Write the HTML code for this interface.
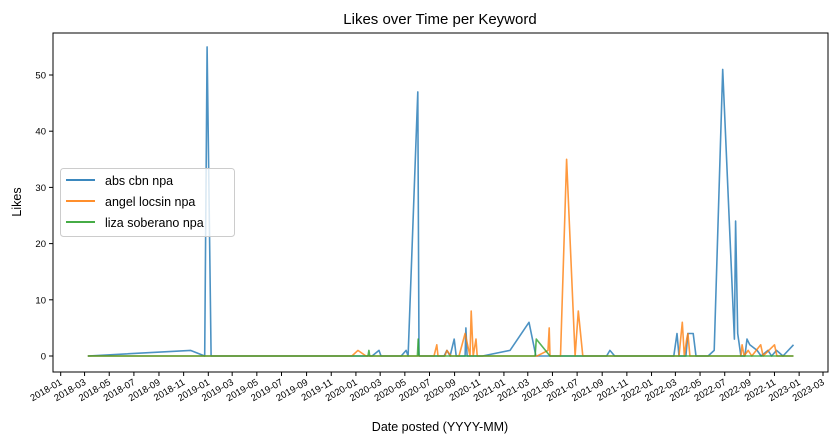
<!DOCTYPE html>
<html><head><meta charset="utf-8"><style>
body{margin:0;background:#fff;}
svg{display:block;font-family:"Liberation Sans","DejaVu Sans",sans-serif;}
</style></head><body>
<svg id="chart" width="838" height="443" xmlns="http://www.w3.org/2000/svg">
<text x="440" y="24" font-size="15" text-anchor="middle">Likes over Time per Keyword</text>
<text x="440" y="431" font-size="12.5" text-anchor="middle">Date posted (YYYY-MM)</text>
<text x="21" y="202" font-size="12.5" text-anchor="middle" transform="rotate(-90 21 202)">Likes</text>
<g id="grid"></g>
<g id="series"></g>
<rect x="53" y="33" width="775" height="339" fill="none" stroke="#000" stroke-width="1"/>
<g>
<rect x="60.5" y="168.5" width="174" height="68" rx="3" fill="#fff" fill-opacity="0.8" stroke="#ccc"/>
<line x1="66" y1="180" x2="95" y2="180" stroke="#1f77b4" stroke-width="1.8"/>
<text x="105" y="185" font-size="12.5">abs cbn npa</text>
<line x1="66" y1="201" x2="95" y2="201" stroke="#ff7f0e" stroke-width="1.8"/>
<text x="105" y="206" font-size="12.5">angel locsin npa</text>
<line x1="66" y1="222" x2="95" y2="222" stroke="#2ca02c" stroke-width="1.8"/>
<text x="105" y="227" font-size="12.5">liza soberano npa</text>
</g>
</svg>
<script>
const absDates=["2018-03-09","2018-11-18","2018-12-23","2018-12-29","2019-01-08","2020-02-10","2020-02-27","2020-03-03","2020-04-22","2020-05-04","2020-05-09","2020-06-02","2020-06-05","2020-08-06","2020-08-13","2020-08-21","2020-08-31","2020-09-05","2020-09-27","2020-09-29","2020-10-02","2020-11-09","2021-01-16","2021-03-04","2021-03-21","2021-09-12","2021-09-20","2021-10-02","2022-02-25","2022-03-05","2022-03-10","2022-03-27","2022-04-01","2022-04-14","2022-04-21","2022-05-21","2022-06-05","2022-06-26","2022-07-25","2022-07-28","2022-08-02","2022-08-10","2022-08-20","2022-08-25","2022-09-01","2022-09-19","2022-09-29","2022-10-16","2022-10-25","2022-11-06","2022-11-22","2022-12-18"];
const absLikes=[0,1,0,55,0,0,1,0,0,1,0,47,0,0,1,0,3,0,0,5,0,0,1,6,0,0,1,0,0,4,0,0,4,4,0,0,1,51,3,24,4,0,0,3,2,1,0,1,0,1,0,2];
const angelDates=["2018-03-09","2019-12-22","2020-01-06","2020-01-26","2020-07-12","2020-07-19","2020-07-22","2020-08-08","2020-08-13","2020-08-23","2020-09-12","2020-09-27","2020-10-09","2020-10-12","2020-10-17","2020-10-24","2020-10-27","2021-03-24","2021-04-20","2021-04-23","2021-04-25","2021-05-21","2021-06-05","2021-06-26","2021-07-04","2021-07-15","2022-03-10","2022-03-18","2022-03-23","2022-03-29","2022-04-01","2022-04-06","2022-08-10","2022-08-13","2022-08-18","2022-08-28","2022-09-06","2022-09-28","2022-10-04","2022-11-01","2022-11-07","2022-12-18"];
const angelLikes=[0,0,1,0,0,2,0,0,1,0,0,4,0,8,0,3,0,0,1,5,0,0,35,0,8,0,0,6,0,3,4,0,0,2,0,1,0,2,0,2,0,0];
const lizaDates=["2018-03-09","2020-01-31","2020-02-02","2020-02-04","2020-06-01","2020-06-03","2020-06-05","2021-03-19","2021-03-22","2021-04-25","2022-12-18"];
const lizaLikes=[0,0,1,0,0,3,0,0,3,0,0];
const yTicks=[0,10,20,30,40,50];
const xTickLabels=[];
for(let y=2018;y<=2023;y++)for(let m=1;m<=12;m+=2){const s=y+"-"+String(m).padStart(2,"0");if(s<="2023-03")xTickLabels.push(s);}

const NS="http://www.w3.org/2000/svg";
const T0=Date.UTC(2018,0,1);
function xs(d){const p=d.split("-");const t=Date.UTC(+p[0],+p[1]-1,+(p[2]||1));return 60.7+(t-T0)/86400000*0.4044;}
function ys(v){return 356-v*5.62;}
const svg=document.getElementById("chart");
const grid=document.getElementById("grid");
yTicks.forEach(v=>{
  const l=document.createElementNS(NS,"line");
  l.setAttribute("x1",49);l.setAttribute("x2",53);l.setAttribute("y1",ys(v));l.setAttribute("y2",ys(v));l.setAttribute("stroke","#000");
  
  
  grid.appendChild(l);
  const t=document.createElementNS(NS,"text");
  t.setAttribute("x",46);t.setAttribute("y",ys(v)+3.5);t.setAttribute("font-size","9.5");t.setAttribute("text-anchor","end");t.textContent=v;
  
  
  grid.appendChild(t);
});
xTickLabels.forEach(s=>{
  const x=xs(s);
  const l=document.createElementNS(NS,"line");
  l.setAttribute("x1",x);l.setAttribute("x2",x);l.setAttribute("y1",372);l.setAttribute("y2",376);l.setAttribute("stroke","#000");
  
  
  grid.appendChild(l);
  const t=document.createElementNS(NS,"text");
  t.setAttribute("x",x+2);t.setAttribute("y",384);t.setAttribute("font-size","9.5");t.setAttribute("text-anchor","end");
  t.setAttribute("transform","rotate(-30 "+(x+2)+" 384)");t.textContent=s;
  
  
  grid.appendChild(t);
});
const g=document.getElementById("series");
function draw(dates,vals,color,name){
  const p=document.createElementNS(NS,"polyline");
  p.setAttribute("points",dates.map((d,i)=>xs(d).toFixed(1)+","+ys(vals[i]).toFixed(1)).join(" "));
  p.setAttribute("fill","none");p.setAttribute("stroke",color);p.setAttribute("stroke-width","1.6");p.setAttribute("stroke-opacity","0.8");p.setAttribute("stroke-linejoin","round");
  
  
  g.appendChild(p);
}
draw(absDates,absLikes,"#1f77b4","line-abs-cbn-npa");
draw(angelDates,angelLikes,"#ff7f0e","line-angel-locsin-npa");
draw(lizaDates,lizaLikes,"#2ca02c","line-liza-soberano-npa");
</script>
</body></html>
